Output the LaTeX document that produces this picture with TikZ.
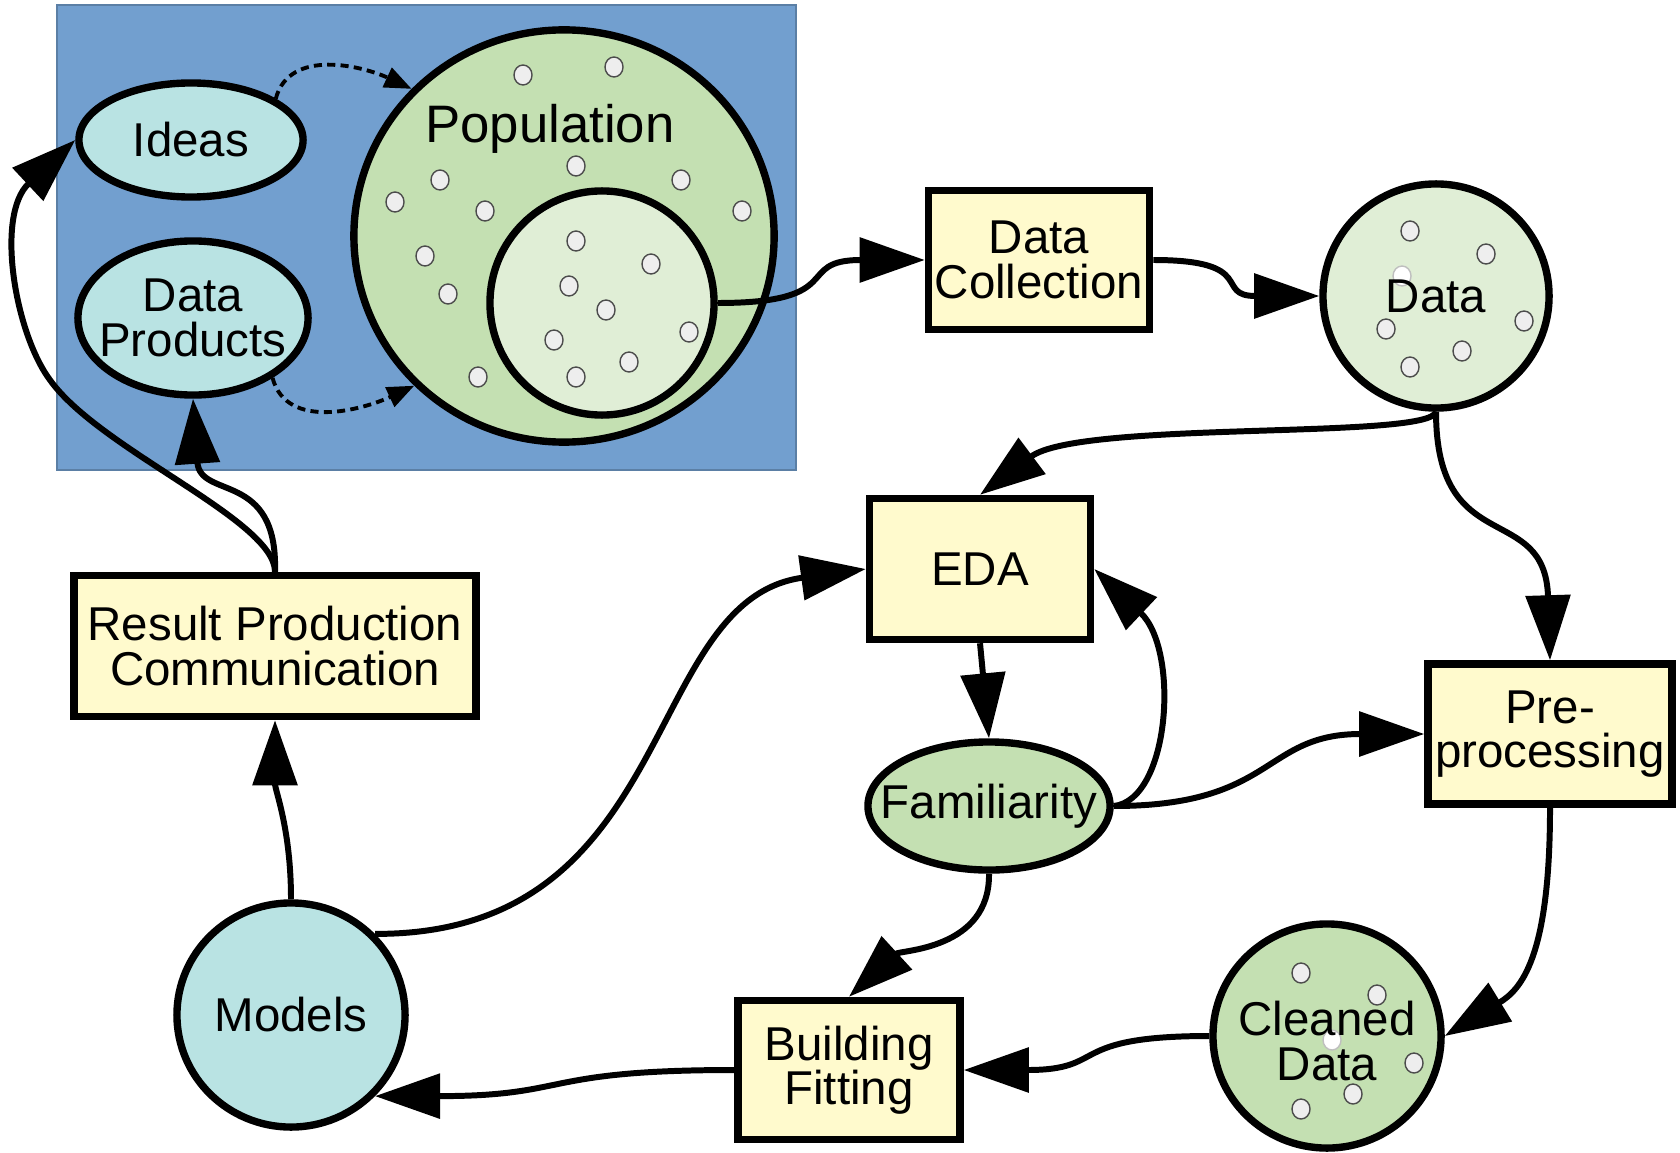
\documentclass[tikz,border=0pt]{standalone}
\usepackage{fontspec}
\setmainfont{Liberation Sans}
\usetikzlibrary{shapes.geometric,arrows.meta}
\definecolor{bgblue}{HTML}{729FCF}
\definecolor{cyanfill}{HTML}{B9E3E3}
\definecolor{greenfill}{HTML}{C4E0B2}
\definecolor{palegreen}{HTML}{E0EED6}
\definecolor{boxyellow}{HTML}{FFFACD}
\definecolor{dotgrey}{HTML}{EEEEEE}

\begin{document}
\begin{tikzpicture}[x=0.01cm,y=-0.01cm,
  blob/.style={ellipse,draw,line width=2.1pt,inner sep=0pt},
  stage/.style={rectangle,draw,line width=2.1pt,fill=boxyellow,inner sep=0pt,txt},
  txt/.style={font=\fontsize{13.5}{12.6}\selectfont,align=center},
  flow/.style={line width=1.7pt,-{Triangle[length=0.65cm,width=0.44cm]}},
  hint/.style={line width=1.1pt,dash pattern=on 2.3pt off 1.5pt,-{Triangle[length=0.27cm,width=0.21cm]}},
  dot/.style={fill=dotgrey,draw=black!70,line width=0.4pt},
  faintdot/.style={fill=white,draw=black!25,line width=0.4pt}]
\useasboundingbox (0,0) rectangle (1680,1152);

\fill[bgblue] (57,5) rectangle (796,470);
\draw[bgblue!80!black,line width=0.5pt] (57,5) rectangle (796,470);

\node[blob,fill=cyanfill,minimum width=2.24cm,minimum height=1.14cm] (ideas) at (191,140) {};
\node[blob,fill=cyanfill,minimum width=2.30cm,minimum height=1.54cm] (dp) at (193,318) {};
\node[blob,fill=greenfill,minimum width=4.20cm,minimum height=4.12cm] (pop) at (564,236) {};
\node[blob,fill=palegreen,minimum width=2.24cm,minimum height=2.24cm] (sample) at (602,303) {};

\node[stage,minimum width=2.21cm,minimum height=1.39cm] (dc) at (1039,260) {Data\\Collection};
\node[blob,fill=palegreen,minimum width=2.26cm,minimum height=2.24cm] (data) at (1436,296) {};
\node[stage,minimum width=2.21cm,minimum height=1.41cm] (eda) at (980,569) {EDA};
\node[blob,fill=greenfill,minimum width=2.42cm,minimum height=1.28cm] (fam) at (989,806) {};
\node[stage,minimum width=2.44cm,minimum height=1.40cm] (pre) at (1550,734) {Pre-\\processing};
\node[blob,fill=greenfill,minimum width=2.28cm,minimum height=2.24cm] (clean) at (1327,1036) {};
\node[stage,minimum width=2.22cm,minimum height=1.39cm] (bf) at (849,1070) {Building\\Fitting};
\node[blob,fill=cyanfill,minimum width=2.28cm,minimum height=2.24cm] (models) at (291,1015) {};
\node[stage,minimum width=4.02cm,minimum height=1.41cm] (rp) at (275,646) {Result Production\\Communication};

\foreach \x/\y in {523/75,614/67,576/166,440/180,395/202,485/211,681/180,742/211,425/256,448/294,478/377,
  576/241,651/264,569/286,606/310,689/332,554/340,629/362,576/377,
  1410/231,1486/254,1386/329,1524/321,1462/351,1410/367,
  1301/973,1377/995,1414/1063,1353/1094,1301/1109}
  \draw[dot] (\x,\y) circle[x radius=0.09cm,y radius=0.1cm];
\draw[faintdot] (1402,276) circle[x radius=0.09cm,y radius=0.1cm];
\draw[faintdot] (1332,1040) circle[x radius=0.09cm,y radius=0.1cm];

\node[txt] (ideas-t) at (ideas) {Ideas};
\node[txt] (dp-t) at (dp) {Data\\Products};
\node[font=\fontsize{15}{15}\selectfont] (pop-t) at (550,129) {Population};
\node[txt] (data-t) at (data) {Data};
\node[txt] (fam-t) at (fam) {Familiarity};
\node[txt] (clean-t) at (1327,1041) {Cleaned\\Data};
\node[txt] (models-t) at (models) {Models};

\draw[hint] (ideas.26) to[out=75,in=155] (pop.136);
\draw[hint] (dp.-37) to[out=-75,in=-155] (pop.225);

\draw[flow] (sample.east) to[out=0,in=180,looseness=1.6] (dc.west);
\draw[flow] (dc.east) to[out=0,in=180,looseness=1.6] (data.west);
\draw[flow] (data.south) .. controls (1430,440) and (1080,420) .. (eda.north);
\draw[flow] (data.south) .. controls (1436,560) and (1545,500) .. (pre.north);
\draw[flow] (eda.south) -- (fam.north);
\draw[flow] (fam.east) .. controls (1170,800) and (1180,650) .. (eda.east);
\draw[flow] (fam.east) to[out=0,in=180,looseness=1.3] (pre.west);
\draw[flow] (fam.south) .. controls (990,950) and (900,950) .. (bf.north);
\draw[flow] (pre.south) .. controls (1550,960) and (1520,990) .. (clean.east);
\draw[flow] (clean.west) to[out=180,in=0,looseness=1.5] (bf.east);
\draw[flow] (bf.west) to[out=180,in=0,looseness=1.4] (models.-44);
\draw[flow] (models.north) to[out=90,in=-90] (rp.south);
\draw[flow] (models.44) .. controls (680,935) and (640,600) .. (eda.west);
\draw[flow] (rp.north) .. controls (278,470) and (200,500) .. (dp.south);
\draw[flow] (rp.north) .. controls (275,520) and (100,450) .. (50,380)
  .. controls (15,333) and (-5,215) .. (ideas.west);
\end{tikzpicture}
\end{document}
